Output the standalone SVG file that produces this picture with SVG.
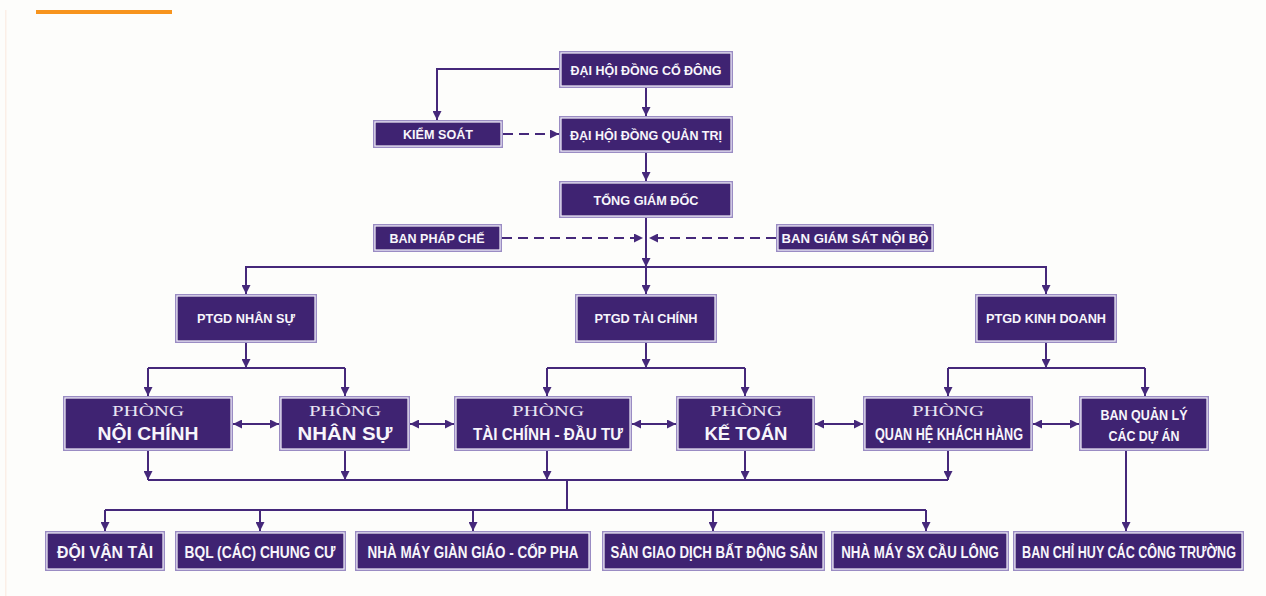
<svg xmlns="http://www.w3.org/2000/svg" width="1266" height="596" viewBox="0 0 1266 596">
<style>
.bg{fill:#fdfdfb}
.ob{fill:#9a8cc3}
.ib{fill:#3f2372;stroke:#f4f1fa;stroke-width:1.2}
.t{font-family:"Liberation Sans","DejaVu Sans",sans-serif;font-weight:bold;fill:#f7f5fb;text-anchor:middle}
.s{font-family:"Liberation Serif","DejaVu Serif",serif;fill:#e9e5f3;text-anchor:middle;font-size:15px}
.c{fill:none;stroke:#45287a;stroke-width:2}
.a{marker-end:url(#ah)}
.b{marker-start:url(#ah);marker-end:url(#ah)}
.d{stroke-dasharray:10 6}
</style>
<defs>
<marker id="ah" viewBox="0 0 10 10" refX="10" refY="5" markerWidth="9" markerHeight="9" markerUnits="userSpaceOnUse" orient="auto-start-reverse">
<path d="M0,0 L10,5 L0,10 z" fill="#45287a"/>
</marker>
</defs>
<rect class="bg" x="0" y="0" width="1266" height="596"/>
<rect x="5" y="10" width="1.5" height="586" fill="#fbefe7"/>
<rect x="36" y="10" width="136" height="4" fill="#f7941d"/>

<g id="connectors">
<path class="c a" d="M559,69 H437 V120"/>
<path class="c a" d="M646,88 V116"/>
<path class="c a d" d="M503,134 H559"/>
<path class="c a" d="M646,153 V181"/>
<path class="c a" d="M646,218 V267"/>
<path class="c a d" d="M502,238 H643"/>
<path class="c a d" d="M776,238 H649"/>
<path class="c" d="M245,267 H1047"/>
<path class="c a" d="M646,267 V294"/>
<path class="c a" d="M246,267 V294"/>
<path class="c a" d="M1046,267 V294"/>
<path class="c a" d="M246,343 V368"/>
<path class="c" d="M148,368 H345"/>
<path class="c a" d="M148,368 V396"/>
<path class="c a" d="M345,368 V396"/>
<path class="c a" d="M646,343 V368"/>
<path class="c" d="M547,368 H745"/>
<path class="c a" d="M547,368 V396"/>
<path class="c a" d="M745,368 V396"/>
<path class="c a" d="M1046,343 V368"/>
<path class="c" d="M948,368 H1145"/>
<path class="c a" d="M948,368 V396"/>
<path class="c a" d="M1145,368 V396"/>
<path class="c b" d="M233,424 H279"/>
<path class="c b" d="M410,424 H454"/>
<path class="c b" d="M632,424 H676"/>
<path class="c b" d="M815,424 H863"/>
<path class="c b" d="M1033,424 H1079"/>
<path class="c a" d="M148,451 V480"/>
<path class="c a" d="M345,451 V480"/>
<path class="c a" d="M547,451 V480"/>
<path class="c a" d="M745,451 V480"/>
<path class="c a" d="M948,451 V480"/>
<path class="c" d="M148,480 H948"/>
<path class="c" d="M567,480 V510"/>
<path class="c" d="M105,510 H926"/>
<path class="c a" d="M105,510 V531"/>
<path class="c a" d="M260,510 V531"/>
<path class="c a" d="M473,510 V531"/>
<path class="c a" d="M713,510 V531"/>
<path class="c a" d="M926,510 V531"/>
<path class="c a" d="M1126,451 V531"/>
</g>

<g id="dhdcd"><rect class="ob" x="559" y="51" width="174" height="37"/><rect class="ib" x="561" y="53" width="170" height="33"/><text class="t" x="646" y="75" font-size="13" textLength="151" lengthAdjust="spacingAndGlyphs">ĐẠI HỘI ĐỒNG CỔ ĐÔNG</text></g>
<g id="dhdqt"><rect class="ob" x="559" y="116" width="174" height="37"/><rect class="ib" x="561" y="118" width="170" height="33"/><text class="t" x="646" y="140" font-size="13" textLength="152" lengthAdjust="spacingAndGlyphs">ĐẠI HỘI ĐỒNG QUẢN TRỊ</text></g>
<g id="kiemsoat"><rect class="ob" x="373" y="120" width="130" height="28"/><rect class="ib" x="375" y="122" width="126" height="24"/><text class="t" x="438" y="139" font-size="13" textLength="70" lengthAdjust="spacingAndGlyphs">KIỂM SOÁT</text></g>
<g id="tgd"><rect class="ob" x="559" y="181" width="174" height="37"/><rect class="ib" x="561" y="183" width="170" height="33"/><text class="t" x="646" y="205" font-size="13" textLength="105" lengthAdjust="spacingAndGlyphs">TỔNG GIÁM ĐỐC</text></g>
<g id="phapche"><rect class="ob" x="373" y="224" width="129" height="28"/><rect class="ib" x="375" y="226" width="125" height="24"/><text class="t" x="437" y="243" font-size="13" textLength="95" lengthAdjust="spacingAndGlyphs">BAN PHÁP CHẾ</text></g>
<g id="giamsat"><rect class="ob" x="776" y="224" width="158" height="28"/><rect class="ib" x="778" y="226" width="154" height="24"/><text class="t" x="855" y="243" font-size="13" textLength="147" lengthAdjust="spacingAndGlyphs">BAN GIÁM SÁT NỘI BỘ</text></g>
<g id="ptgd-ns"><rect class="ob" x="175" y="294" width="142" height="49"/><rect class="ib" x="177" y="296" width="138" height="45"/><text class="t" x="246" y="323" font-size="13" textLength="98" lengthAdjust="spacingAndGlyphs">PTGD NHÂN SỰ</text></g>
<g id="ptgd-tc"><rect class="ob" x="575" y="294" width="142" height="49"/><rect class="ib" x="577" y="296" width="138" height="45"/><text class="t" x="646" y="323" font-size="13" textLength="103" lengthAdjust="spacingAndGlyphs">PTGD TÀI CHÍNH</text></g>
<g id="ptgd-kd"><rect class="ob" x="975" y="294" width="142" height="49"/><rect class="ib" x="977" y="296" width="138" height="45"/><text class="t" x="1046" y="323" font-size="13" textLength="120" lengthAdjust="spacingAndGlyphs">PTGD KINH DOANH</text></g>

<g id="noichinh"><rect class="ob" x="63" y="396" width="170" height="55"/><rect class="ib" x="65" y="398" width="166" height="51"/><text class="s" x="148" y="416" textLength="72" lengthAdjust="spacingAndGlyphs">PHÒNG</text><text class="t" x="148" y="440" font-size="18" textLength="101" lengthAdjust="spacingAndGlyphs">NỘI CHÍNH</text></g>
<g id="nhansu"><rect class="ob" x="279" y="396" width="131" height="55"/><rect class="ib" x="281" y="398" width="127" height="51"/><text class="s" x="345" y="416" textLength="72" lengthAdjust="spacingAndGlyphs">PHÒNG</text><text class="t" x="345" y="440" font-size="18" textLength="95" lengthAdjust="spacingAndGlyphs">NHÂN SỰ</text></g>
<g id="taichinh"><rect class="ob" x="454" y="396" width="178" height="55"/><rect class="ib" x="456" y="398" width="174" height="51"/><text class="s" x="548" y="416" textLength="72" lengthAdjust="spacingAndGlyphs">PHÒNG</text><text class="t" x="548" y="440" font-size="16" textLength="150" lengthAdjust="spacingAndGlyphs">TÀI CHÍNH - ĐẦU TƯ</text></g>
<g id="ketoan"><rect class="ob" x="676" y="396" width="139" height="55"/><rect class="ib" x="678" y="398" width="135" height="51"/><text class="s" x="746" y="416" textLength="72" lengthAdjust="spacingAndGlyphs">PHÒNG</text><text class="t" x="746" y="440" font-size="18" textLength="83" lengthAdjust="spacingAndGlyphs">KẾ TOÁN</text></g>
<g id="qhkh"><rect class="ob" x="863" y="396" width="170" height="55"/><rect class="ib" x="865" y="398" width="166" height="51"/><text class="s" x="948" y="416" textLength="72" lengthAdjust="spacingAndGlyphs">PHÒNG</text><text class="t" x="949" y="440" font-size="16" textLength="148" lengthAdjust="spacingAndGlyphs">QUAN HỆ KHÁCH HÀNG</text></g>
<g id="bqlda"><rect class="ob" x="1079" y="396" width="130" height="55"/><rect class="ib" x="1081" y="398" width="126" height="51"/><text class="t" x="1144" y="420" font-size="14" textLength="87" lengthAdjust="spacingAndGlyphs">BAN QUẢN LÝ</text><text class="t" x="1144" y="441" font-size="14" textLength="71" lengthAdjust="spacingAndGlyphs">CÁC DỰ ÁN</text></g>

<g id="doivantai"><rect class="ob" x="45" y="531" width="120" height="40"/><rect class="ib" x="47" y="533" width="116" height="36"/><text class="t" transform="translate(105,558) scale(0.74,1)" x="0" y="0" font-size="17" textLength="130" lengthAdjust="spacingAndGlyphs">ĐỘI VẬN TẢI</text></g>
<g id="bqlcc"><rect class="ob" x="175" y="531" width="171" height="40"/><rect class="ib" x="177" y="533" width="167" height="36"/><text class="t" transform="translate(260,558) scale(0.74,1)" x="0" y="0" font-size="17" textLength="204" lengthAdjust="spacingAndGlyphs">BQL (CÁC) CHUNG CƯ</text></g>
<g id="nmgg"><rect class="ob" x="355" y="531" width="236" height="40"/><rect class="ib" x="357" y="533" width="232" height="36"/><text class="t" transform="translate(473,558) scale(0.74,1)" x="0" y="0" font-size="17" textLength="285" lengthAdjust="spacingAndGlyphs">NHÀ MÁY GIÀN GIÁO - CỐP PHA</text></g>
<g id="sangd"><rect class="ob" x="602" y="531" width="223" height="40"/><rect class="ib" x="604" y="533" width="219" height="36"/><text class="t" transform="translate(714,558) scale(0.74,1)" x="0" y="0" font-size="17" textLength="280" lengthAdjust="spacingAndGlyphs">SÀN GIAO DỊCH BẤT ĐỘNG SẢN</text></g>
<g id="nmsx"><rect class="ob" x="831" y="531" width="178" height="40"/><rect class="ib" x="833" y="533" width="174" height="36"/><text class="t" transform="translate(920,558) scale(0.74,1)" x="0" y="0" font-size="17" textLength="213" lengthAdjust="spacingAndGlyphs">NHÀ MÁY SX CẦU LÔNG</text></g>
<g id="bch"><rect class="ob" x="1013" y="531" width="231" height="40"/><rect class="ib" x="1015" y="533" width="227" height="36"/><text class="t" transform="translate(1129,558) scale(0.74,1)" x="0" y="0" font-size="17" textLength="289" lengthAdjust="spacingAndGlyphs">BAN CHỈ HUY CÁC CÔNG TRƯỜNG</text></g>
</svg>
